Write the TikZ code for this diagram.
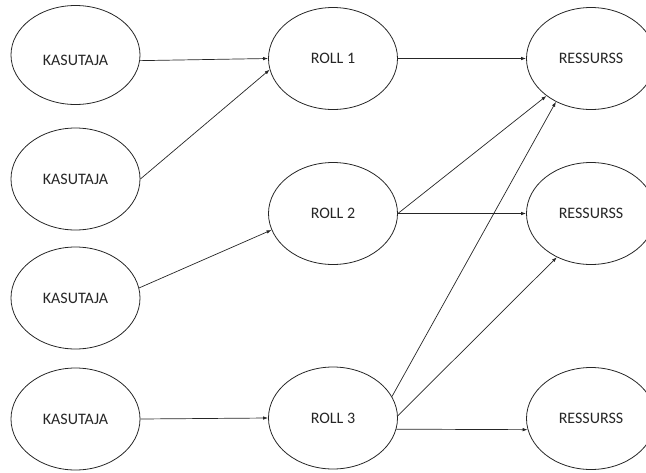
\documentclass[tikz,border=0pt]{standalone}
\usepackage{fontspec}
\setmainfont{Carlito}
\usetikzlibrary{shapes.geometric,arrows.meta}
\begin{document}
\begin{tikzpicture}[x=1pt,y=-1pt,
  oval/.style={draw=black!85,line width=0.8pt,ellipse,minimum width=129pt,minimum height=102pt,inner sep=0pt,text=black!85,font=\fontsize{16}{18}\selectfont},
  conn/.style={draw=black!85,line width=0.7pt,-{Latex[length=5pt,width=3.5pt]}}]
\useasboundingbox (0,0) rectangle (646,472);
\node[oval,minimum height=99pt] (k1) at (75.5,55) {\raisebox{-5pt}[\height][0pt]{KASUTAJA}};
\node[oval] (k2) at (75.5,179) {KASUTAJA};
\node[oval] (k3) at (75.5,298) {KASUTAJA};
\node[oval] (k4) at (75.5,419) {KASUTAJA};
\node[oval] (r1) at (333,58.5) {ROLL 1};
\node[oval] (r2) at (333,213.5) {ROLL 2};
\node[oval] (r3) at (333,418) {ROLL 3};
\node[oval] (s1) at (591,58.5) {RESSURSS};
\node[oval] (s2) at (591,213.5) {RESSURSS};
\node[oval] (s3) at (591,418.5) {RESSURSS};
\draw[conn] (k1.-5) -- (r1.west);
\draw[conn] (k2.east) -- (r1.190);
\draw[conn] (k3.9) -- (r2.195);
\draw[conn] (k4.east) -- (r3.west);
\draw[conn] (r1.east) -- (s1.west);
\draw[conn] (r2.east) -- (s1.220);
\draw[conn] (r2.east) -- (s2.west);
\draw[conn] (r3.20) -- (s1.231);
\draw[conn] (r3.2) -- (s2.232);
\draw[conn] (r3.350) -- (s3.190);
\end{tikzpicture}
\end{document}
